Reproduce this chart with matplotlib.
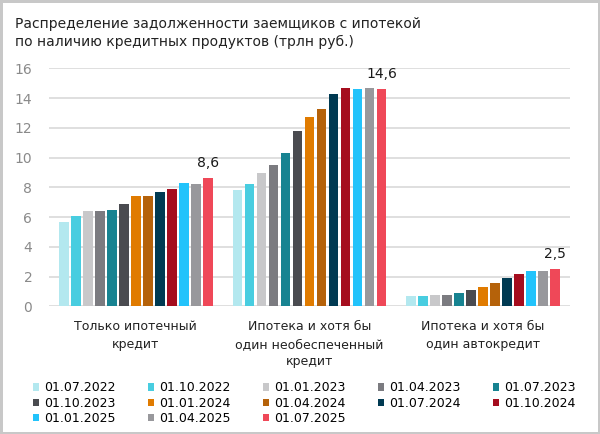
import numpy as np
import matplotlib
matplotlib.use("Agg")
import matplotlib.pyplot as plt

# Data (трлн руб.)
categories = ["Только ипотечный\nкредит",
              "Ипотека и хотя бы\nодин необеспеченный\nкредит",
              "Ипотека и хотя бы\nодин автокредит"]
dates = ["01.07.2022", "01.10.2022", "01.01.2023", "01.04.2023", "01.07.2023",
         "01.10.2023", "01.01.2024", "01.04.2024", "01.07.2024", "01.10.2024",
         "01.01.2025", "01.04.2025", "01.07.2025"]
only_mortgage = [5.7, 6.1, 6.4, 6.4, 6.5, 6.9, 7.4, 7.4, 7.7, 7.9, 8.3, 8.2, 8.6]
unsecured = [7.8, 8.2, 9.0, 9.5, 10.3, 11.8, 12.7, 13.3, 14.3, 14.7, 14.6, 14.7, 14.6]
auto = [0.7, 0.7, 0.8, 0.8, 0.9, 1.1, 1.3, 1.6, 1.9, 2.2, 2.4, 2.4, 2.5]
last_labels = ["8,6", "14,6", "2,5"]

colors = ["#b3e8ef", "#48cde0", "#c8c8ca", "#7b7b80", "#178391",
          "#4a4b50", "#e07b00", "#b5620a", "#003a52", "#a50d1e",
          "#22c3fb", "#98989c", "#ef4858"]

plt.rcParams['font.family'] = ['DejaVu Sans']

fig = plt.figure(figsize=(6.0, 4.34), dpi=100)
fig.patch.set_edgecolor("#c8c8c8")
fig.patch.set_linewidth(2.5)
ax = fig.add_axes([0.0817, 0.2938, 0.8683, 0.5488])

values = np.array([only_mortgage, unsecured, auto])  # groups x dates
x = np.arange(len(categories))
pitch = 0.0691
width = 0.0548
n = len(dates)
bars = []
for i, d in enumerate(dates):
    offs = (i - (n - 1) / 2) * pitch
    bars.append(ax.bar(x + offs, values[:, i], width=width, color=colors[i],
                       label=d, zorder=3))

# labels above the last bar of each group
last_off = ((n - 1) / 2) * pitch
for g in range(len(categories)):
    ax.text(x[g] + last_off, values[g, -1] + 0.55, last_labels[g],
            ha="center", va="bottom", fontsize=10, color="#1a1a1a")

ax.set_xlim(-0.5, 2.5)
ax.set_ylim(0, 16)
ax.set_yticks(range(0, 17, 2))
ax.yaxis.grid(True, color="#d6d6d6", linewidth=1.1, zorder=0)
for s in ax.spines.values():
    s.set_visible(False)
ax.tick_params(axis="y", length=0, pad=12, labelsize=10, labelcolor="#8a8a8a")
ax.tick_params(axis="x", length=0, pad=10, labelsize=9, labelcolor="#222222")
ax.set_xticks(x)
ax.set_xticklabels(categories, linespacing=1.45)

fig.text(0.025, 0.960, "Распределение задолженности заемщиков с ипотекой\n"
         "по наличию кредитных продуктов (трлн руб.)",
         ha="left", va="top", fontsize=10, color="#222222", linespacing=1.3)

# legend is filled column by column, reorder so it reads row by row
ncol = 5
order = []
for c in range(ncol):
    order += list(range(c, n, ncol))
fig.legend([bars[k] for k in order], [dates[k] for k in order],
           loc="upper left", bbox_to_anchor=(0.055, 0.121), ncol=ncol,
           frameon=False, fontsize=9, handlelength=0.5, handleheight=0.5,
           handletextpad=0.4, columnspacing=2.58, labelspacing=0.18,
           borderpad=0, borderaxespad=0)

fig.savefig("out.png", dpi=100)
